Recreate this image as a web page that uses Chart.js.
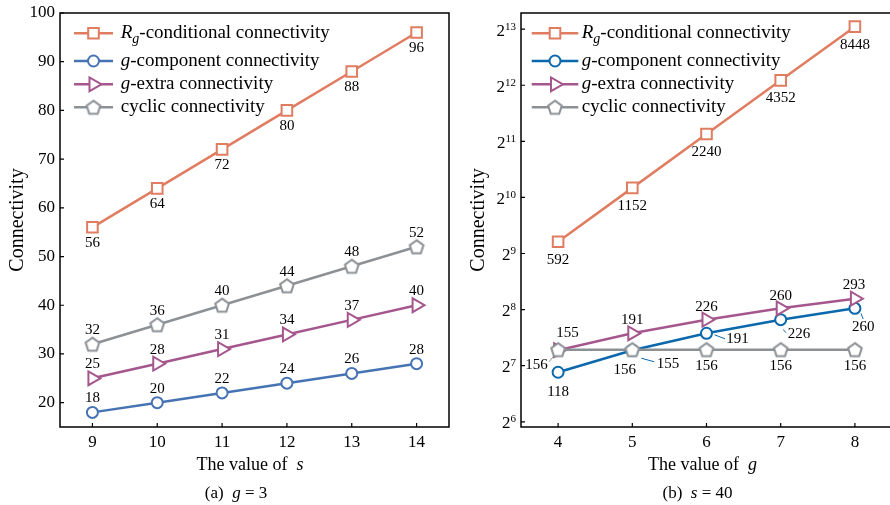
<!DOCTYPE html>
<html>
<head>
<meta charset="utf-8">
<script src="https://cdn.jsdelivr.net/npm/chart.js@4.4.0/dist/chart.umd.min.js"></script>
<style>
html, body { margin: 0; padding: 0; background: #fff; overflow: hidden; width: 890px; height: 505px; }
#left { position: absolute; left: 0; top: 0; }
#right { position: absolute; left: 445px; top: 0; }
</style>
</head>
<body>
<canvas id="left" width="450" height="505"></canvas>
<canvas id="right" width="450" height="505"></canvas>
<script>
// (a) g = 3
const sValues = [9, 10, 11, 12, 13, 14];
const rgBySize = [56, 64, 72, 80, 88, 96];
const componentBySize = [18, 20, 22, 24, 26, 28];
const extraBySize = [25, 28, 31, 34, 37, 40];
const cyclicBySize = [32, 36, 40, 44, 48, 52];
const sTicksY = [20, 30, 40, 50, 60, 70, 80, 90, 100];

// (b) s = 40
const gValues = [4, 5, 6, 7, 8];
const rgByG = [592, 1152, 2240, 4352, 8448];
const componentByG = [118, 155, 191, 226, 260];
const extraByG = [155, 191, 226, 260, 293];
const cyclicByG = [156, 156, 156, 156, 156];
const gTickExponents = [6, 7, 8, 9, 10, 11, 12, 13];

const SERIF = '"Liberation Serif", "Times New Roman", serif';
Chart.defaults.font.family = SERIF;
Chart.defaults.color = '#000';

const ORANGE = '#E07C60';
const BLUE_A = '#4673B3';
const BLUE_B = '#0B68AC';
const PURPLE = '#A5578D';
const GRAY = '#8C9196';

function pentagonPath(ctx, x, y, r) {
    ctx.beginPath();
    for (let k = 0; k < 5; k++) {
        const a = -Math.PI / 2 + k * 2 * Math.PI / 5;
        const px = x + r * Math.cos(a), py = y + r * Math.sin(a);
        if (k === 0) ctx.moveTo(px, py); else ctx.lineTo(px, py);
    }
    ctx.closePath();
}

function pentagonImage(color) {
    const c = document.createElement('canvas');
    c.width = 20; c.height = 20;
    const ctx = c.getContext('2d');
    pentagonPath(ctx, 10, 10.6, 7.2);
    ctx.fillStyle = '#fff';
    ctx.fill();
    ctx.lineWidth = 2;
    ctx.strokeStyle = color;
    ctx.stroke();
    return c;
}
const pentagon = pentagonImage(GRAY);

function drawMarker(ctx, type, x, y, color) {
    ctx.save();
    ctx.lineWidth = 2;
    ctx.strokeStyle = color;
    ctx.fillStyle = '#fff';
    ctx.beginPath();
    if (type === 'rect') {
        ctx.rect(x - 5.3, y - 5.3, 10.6, 10.6);
    } else if (type === 'circle') {
        ctx.arc(x, y, 5.5, 0, Math.PI * 2);
    } else if (type === 'triangle') {
        ctx.moveTo(x + 8, y);
        ctx.lineTo(x - 4, y - 6.9);
        ctx.lineTo(x - 4, y + 6.9);
        ctx.closePath();
    } else {
        ctx.drawImage(pentagon, x - 10, y - 10);
        ctx.restore();
        return;
    }
    ctx.fill();
    ctx.stroke();
    ctx.restore();
}

// parts: [text, 'n' | 'i' | 'sub']
function drawRich(ctx, parts, x, y, size, align) {
    const fontOf = st => st === 'n' ? `${size}px ${SERIF}` :
        st === 'i' ? `italic ${size}px ${SERIF}` : `italic ${Math.round(size * 0.72)}px ${SERIF}`;
    let total = 0;
    parts.forEach(p => { ctx.font = fontOf(p[1]); total += ctx.measureText(p[0]).width; });
    let cx = align === 'center' ? x - total / 2 : x;
    ctx.textAlign = 'left';
    ctx.textBaseline = 'alphabetic';
    parts.forEach(p => {
        ctx.font = fontOf(p[1]);
        ctx.fillText(p[0], cx, y + (p[1] === 'sub' ? size * 0.28 : 0));
        cx += ctx.measureText(p[0]).width;
    });
}

const legendItems = [
    { parts: [['R', 'i'], ['g', 'sub'], ['-conditional connectivity', 'n']], marker: 'rect', key: 'rg' },
    { parts: [['g', 'i'], ['-component connectivity', 'n']], marker: 'circle', key: 'comp' },
    { parts: [['g', 'i'], ['-extra connectivity', 'n']], marker: 'triangle', key: 'extra' },
    { parts: [['cyclic connectivity', 'n']], marker: 'pentagon', key: 'cyc' }
];
const legendRowsY = [33.3, 61, 84.3, 107.3];

const decorPlugin = {
    id: 'decor',
    beforeDatasetsDraw(chart, args, o) {
        const ctx = chart.ctx;
        const a = chart.chartArea;
        ctx.save();
        ctx.strokeStyle = '#000';
        ctx.lineWidth = 1.5;
        ctx.strokeRect(a.left, a.top, a.right - a.left, a.bottom - a.top);
        ctx.lineWidth = 1.2;
        ctx.beginPath();
        chart.scales.x.ticks.forEach(t => {
            const px = chart.scales.x.getPixelForValue(t.value);
            ctx.moveTo(px, a.bottom);
            ctx.lineTo(px, a.bottom - 4);
        });
        chart.scales.y.ticks.forEach(t => {
            const py = chart.scales.y.getPixelForValue(t.value);
            ctx.moveTo(a.left, py);
            ctx.lineTo(a.left + 4, py);
        });
        ctx.stroke();
        ctx.restore();
    },
    afterDatasetsDraw(chart, args, o) {
        const ctx = chart.ctx;
        ctx.save();
        // value labels
        chart.data.datasets.forEach((ds, i) => {
            const meta = chart.getDatasetMeta(i);
            meta.data.forEach((pt, j) => {
                const off = ds.labelOffsets[j];
                if (off.length > 2) {
                    ctx.strokeStyle = ds.borderColor;
                    ctx.lineWidth = 1;
                    ctx.beginPath();
                    ctx.moveTo(pt.x + off[2], pt.y + off[3]);
                    ctx.lineTo(pt.x + off[4], pt.y + off[5]);
                    ctx.stroke();
                }
                ctx.fillStyle = '#000';
                ctx.font = `15px ${SERIF}`;
                ctx.textAlign = 'center';
                ctx.textBaseline = 'alphabetic';
                ctx.fillText(String(ds.data[j].y), pt.x + off[0], pt.y + off[1] + 5);
            });
        });
        // legend
        const colors = o.colors;
        legendItems.forEach((it, k) => {
            const y = legendRowsY[k];
            ctx.strokeStyle = colors[it.key];
            ctx.lineWidth = 2.5;
            ctx.beginPath();
            ctx.moveTo(o.lineX0, y);
            ctx.lineTo(o.lineX1, y);
            ctx.stroke();
            drawMarker(ctx, it.marker, (o.lineX0 + o.lineX1) / 2, y, colors[it.key]);
            ctx.fillStyle = '#000';
            drawRich(ctx, it.parts, o.textX, y + 4.5, 19, 'left');
        });
        ctx.restore();
    },
    afterDraw(chart, args, o) {
        const ctx = chart.ctx;
        const a = chart.chartArea;
        ctx.save();
        ctx.fillStyle = '#000';
        // y title
        ctx.translate(o.yTitleX, (a.top + a.bottom) / 2);
        ctx.rotate(-Math.PI / 2);
        ctx.font = `20px ${SERIF}`;
        ctx.textAlign = 'center';
        ctx.textBaseline = 'middle';
        ctx.fillText('Connectivity', 0, 0);
        ctx.restore();
        ctx.save();
        ctx.fillStyle = '#000';
        drawRich(ctx, o.xTitle, o.xTitleX, 470, 18, 'center');
        drawRich(ctx, o.caption, o.captionX, 497.5, 17, 'center');
        // superscript tick labels for log axis
        if (o.powerTicks) {
            o.powerTicks.forEach(e => {
                const py = chart.scales.y.getPixelForValue(Math.pow(2, e));
                ctx.font = `11px ${SERIF}`;
                const ew = ctx.measureText(String(e)).width;
                const ex = a.left - 5 - ew;
                ctx.textAlign = 'left';
                ctx.textBaseline = 'alphabetic';
                ctx.fillText(String(e), ex, py + 0.5);
                ctx.font = `17px ${SERIF}`;
                ctx.textAlign = 'right';
                ctx.fillText('2', ex, py + 6.5);
            });
        }
        ctx.restore();
    }
};

function series(label, xs, ys, color, style, offsets, order) {
    const ds = {
        label: label,
        data: xs.map((x, i) => ({ x: x, y: ys[i] })),
        borderColor: color,
        borderWidth: 2.5,
        pointBackgroundColor: '#fff',
        pointBorderColor: color,
        pointBorderWidth: 2,
        pointStyle: style,
        pointRadius: style === 'rect' ? 7.5 : style === 'triangle' ? 8 : 5.5,
        pointRotation: style === 'triangle' ? 90 : 0,
        tension: 0,
        clip: false,
        order: order,
        labelOffsets: offsets
    };
    return ds;
}

function tickFont() {
    return { family: SERIF, size: 17 };
}

function fixX(height) {
    return s => { s.height = height; s.paddingLeft = 0; s.paddingRight = 0; };
}
function fixY(width) {
    return s => { s.width = width; s.paddingTop = 0; s.paddingBottom = 0; };
}

// ---- left chart ----
const below = sValues.map(() => [0, 15]);
const above = sValues.map(() => [0, -15]);

new Chart(document.getElementById('left'), {
    type: 'line',
    data: {
        datasets: [
            series('Rg-conditional connectivity', sValues, rgBySize, ORANGE, 'rect', below, 4),
            series('g-component connectivity', sValues, componentBySize, BLUE_A, 'circle', above, 3),
            series('g-extra connectivity', sValues, extraBySize, PURPLE, 'triangle', above, 2),
            series('cyclic connectivity', sValues, cyclicBySize, GRAY, pentagon, above, 1)
        ]
    },
    options: {
        responsive: false,
        animation: false,
        events: [],
        layout: { autoPadding: false, padding: { top: 13, right: 1, left: 0, bottom: 0 } },
        plugins: {
            legend: { display: false },
            tooltip: { enabled: false },
            decor: {
                colors: { rg: ORANGE, comp: BLUE_A, extra: PURPLE, cyc: GRAY },
                lineX0: 74, lineX1: 113, textX: 120.7,
                yTitleX: 18,
                xTitle: [['The value of  ', 'n'], ['s', 'i']], xTitleX: 250,
                caption: [['(a)  ', 'n'], ['g', 'i'], [' = 3', 'n']], captionX: 236
            }
        },
        scales: {
            x: {
                type: 'linear', min: 8.5, max: 14.5,
                afterBuildTicks: s => { s.ticks = sValues.map(v => ({ value: v })); },
                afterFit: fixX(78),
                grid: { display: false, drawTicks: false },
                border: { display: false },
                ticks: { padding: 5, color: '#000', font: tickFont(), autoSkip: false, maxRotation: 0 }
            },
            y: {
                type: 'linear', min: 15, max: 100,
                afterBuildTicks: s => { s.ticks = sTicksY.map(v => ({ value: v })); },
                afterFit: fixY(60),
                grid: { display: false, drawTicks: false },
                border: { display: false },
                ticks: { padding: 5, color: '#000', font: tickFont(), autoSkip: false }
            }
        }
    },
    plugins: [decorPlugin]
});

// ---- right chart ----
const rgOffsets = gValues.map(() => [0, 17]);
const compOffsets = [[0, 18.5], [35.8, 13.3, 9, 8, 22, 11.6], [31, 5.2, 8, 1.5, 18.5, 5.5], [18.4, 13.3, 2.4, 10, 5.6, 13], [8.3, 17.4, 6, 5, 8.3, 10.7]];
const extraOffsets = [[9.5, -17.7], [0, -14.2], [0, -14], [0, -13.6], [-1, -14.6]];
const cyclicOffsets = [[-21.6, 14.4, -9, 12, -4, 6], [-7.5, 19.4], [0, 15.5], [0, 15.5], [0, 15.5]];

new Chart(document.getElementById('right'), {
    type: 'line',
    data: {
        datasets: [
            series('Rg-conditional connectivity', gValues, rgByG, ORANGE, 'rect', rgOffsets, 4),
            series('g-component connectivity', gValues, componentByG, BLUE_B, 'circle', compOffsets, 3),
            series('g-extra connectivity', gValues, extraByG, PURPLE, 'triangle', extraOffsets, 2),
            series('cyclic connectivity', gValues, cyclicByG, GRAY, pentagon, cyclicOffsets, 1)
        ]
    },
    options: {
        responsive: false,
        animation: false,
        events: [],
        layout: { autoPadding: false, padding: { top: 13, right: 3, left: 0, bottom: 0 } },
        plugins: {
            legend: { display: false },
            tooltip: { enabled: false },
            decor: {
                colors: { rg: ORANGE, comp: BLUE_B, extra: PURPLE, cyc: GRAY },
                lineX0: 86.7, lineX1: 133.3, textX: 136.7,
                yTitleX: 33.3,
                xTitle: [['The value of  ', 'n'], ['g', 'i']], xTitleX: 257.5,
                caption: [['(b)  ', 'n'], ['s', 'i'], [' = 40', 'n']], captionX: 252.5,
                powerTicks: gTickExponents
            }
        },
        scales: {
            x: {
                type: 'linear', min: 3.5, max: 8.5,
                afterBuildTicks: s => { s.ticks = gValues.map(v => ({ value: v })); },
                afterFit: fixX(78),
                grid: { display: false, drawTicks: false },
                border: { display: false },
                ticks: { padding: 5, color: '#000', font: tickFont(), autoSkip: false, maxRotation: 0 }
            },
            y: {
                type: 'logarithmic', min: 60, max: 10000,
                afterBuildTicks: s => { s.ticks = gTickExponents.map(e => ({ value: Math.pow(2, e) })); },
                afterFit: fixY(76),
                grid: { display: false, drawTicks: false },
                border: { display: false },
                ticks: { display: false }
            }
        }
    },
    plugins: [decorPlugin]
});
</script>
</body>
</html>
